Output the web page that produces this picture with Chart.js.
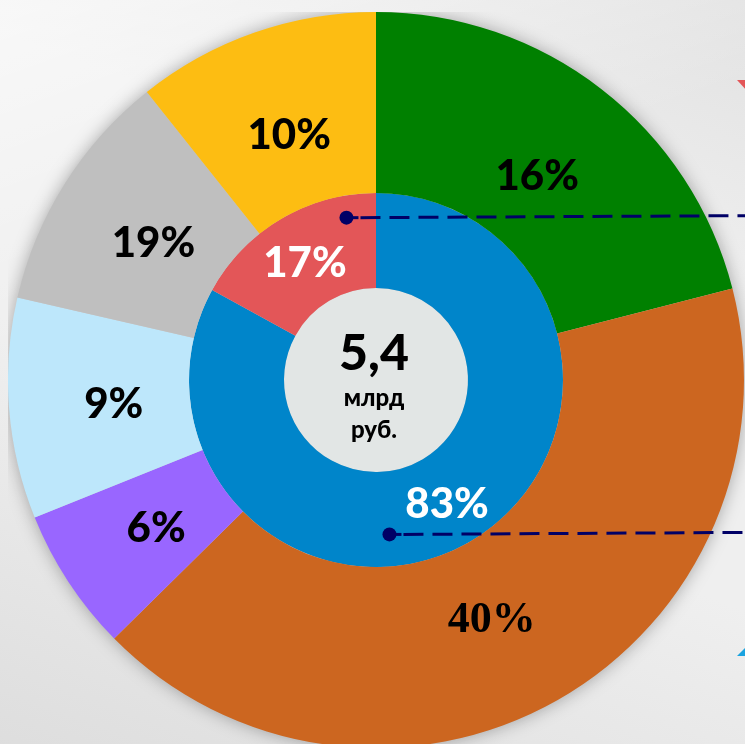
<!DOCTYPE html>
<html lang="ru">
<head>
    <meta charset="UTF-8">
    <title>5,4 млрд руб.</title>
    <script src="https://cdn.jsdelivr.net/npm/chart.js@4"></script>
    <style>
        html, body { margin: 0; padding: 0; width: 745px; height: 744px; overflow: hidden; }
        body {
            position: relative;
            background:
                linear-gradient(160deg, rgba(255,255,255,0.6) 0%, rgba(255,255,255,0) 35%),
                linear-gradient(20deg, rgba(210,210,210,0.6) 0%, rgba(255,255,255,0) 40%),
                linear-gradient(200deg, rgba(220,220,220,0.7) 0%, rgba(255,255,255,0) 30%),
                #efefef;
        }
        #wrap { position: absolute; left: 8px; top: 12px; width: 740px; height: 736px; }
    </style>
</head>
<body>
    <div id="wrap"><canvas id="chart"></canvas></div>

    <script>
        // внешнее кольцо (доли по рисунку, подписи как на слайде)
        const outerCategories = ["Зелёный", "Оранжевый", "Фиолетовый", "Голубой", "Серый", "Жёлтый"];
        const outerValues = [21, 41.6, 6.3, 9.7, 10.7, 10.7];
        const outerLabels = ["16%", "40%", "6%", "9%", "19%", "10%"];
        const outerColors = ["#008000", "#cc6620", "#9966ff", "#bde7fb", "#bfbfbf", "#fdbd12"];

        // внутреннее кольцо
        const innerCategories = ["Синий", "Красный"];
        const innerValues = [83, 17];
        const innerLabels = ["83%", "17%"];
        const innerColors = ["#0085ca", "#e35658"];

        const centerLines = ["5,4", "млрд", "руб."];

        const FONT = "Lato, 'Noto Sans', sans-serif";

        // подписи, тень, выноски
        const decorPlugin = {
            id: "decor",
            beforeDatasetsDraw(chart) {
                const arc = chart.getDatasetMeta(0).data[0];
                const ctx = chart.ctx;
                ctx.save();
                ctx.shadowColor = "rgba(0,0,0,0.35)";
                ctx.shadowBlur = 18;
                ctx.fillStyle = "#cccccc";
                ctx.beginPath();
                ctx.arc(arc.x, arc.y, arc.outerRadius - 1, 0, Math.PI * 2);
                ctx.fill();
                ctx.restore();
            },
            afterDatasetsDraw(chart) {
                const ctx = chart.ctx;
                ctx.save();
                ctx.textAlign = "center";
                ctx.textBaseline = "middle";

                const putLabels = (metaIndex, labels, color, font, frac) => {
                    chart.getDatasetMeta(metaIndex).data.forEach((a, i) => {
                        let mid = (a.startAngle + a.endAngle) / 2;
                        const r = a.innerRadius + (a.outerRadius - a.innerRadius) * frac;
                        ctx.fillStyle = color;
                        ctx.font = font;
                        if (labels[i] === "40%") {
                            ctx.font = "bold 44px 'Liberation Serif', serif";
                            mid += 0.06;
                        }
                        ctx.fillText(labels[i], a.x + Math.cos(mid) * r, a.y + Math.sin(mid) * r + 4);
                    });
                };
                putLabels(0, outerLabels, "#000000", "900 42px " + FONT, 0.42);
                putLabels(1, innerLabels, "#ffffff", "900 42px " + FONT, 0.5);

                // центр
                const c = chart.getDatasetMeta(2).data[0];
                ctx.fillStyle = "#000000";
                ctx.font = "900 50px " + FONT;
                ctx.fillText(centerLines[0], c.x - 2, c.y - 26);
                ctx.font = "900 24px " + FONT;
                ctx.fillText(centerLines[1], c.x - 2, c.y + 18);
                ctx.fillText(centerLines[2], c.x - 2, c.y + 50);

                // выноски
                const red = chart.getDatasetMeta(1).data[1];
                const blue = chart.getDatasetMeta(1).data[0];
                const right = chart.width;
                const leader = (a, ang, dr) => {
                    const px = a.x + Math.cos(ang) * (a.outerRadius - dr);
                    const py = a.y + Math.sin(ang) * (a.outerRadius - dr);
                    ctx.strokeStyle = "#000066";
                    ctx.fillStyle = "#000066";
                    ctx.lineWidth = 3;
                    ctx.setLineDash([]);
                    ctx.beginPath();
                    ctx.moveTo(px, py);
                    ctx.lineTo(px + 12, py);
                    ctx.stroke();
                    ctx.setLineDash([20, 9]);
                    ctx.beginPath();
                    ctx.moveTo(px + 14, py);
                    ctx.lineTo(right, py - 2);
                    ctx.stroke();
                    ctx.setLineDash([]);
                    ctx.beginPath();
                    ctx.arc(px, py, 7, 0, Math.PI * 2);
                    ctx.fill();
                };
                leader(red, red.endAngle - 0.18, 22);
                leader(blue, Math.PI / 2 - 0.087, 32);

                // уголки стрелок у правого края
                ctx.fillStyle = "#e35658";
                ctx.beginPath();
                ctx.moveTo(right - 11, 68); ctx.lineTo(right, 68); ctx.lineTo(right, 80);
                ctx.fill();
                ctx.fillStyle = "#1aa3e0";
                ctx.beginPath();
                ctx.moveTo(right - 11, 644); ctx.lineTo(right, 633); ctx.lineTo(right, 644);
                ctx.fill();
                ctx.restore();
            }
        };

        new Chart(document.getElementById("chart"), {
            type: "doughnut",
            data: {
                labels: outerCategories,
                datasets: [
                    { data: outerValues, backgroundColor: outerColors, borderWidth: 0, weight: 181 },
                    { data: innerValues, backgroundColor: innerColors, borderWidth: 0, weight: 95, labels: innerCategories },
                    { data: [1], backgroundColor: ["#e2e6e5"], borderWidth: 0, weight: 92 }
                ]
            },
            options: {
                responsive: true,
                maintainAspectRatio: false,
                animation: false,
                cutout: 0,
                layout: { padding: { right: 4 } },
                plugins: { legend: { display: false }, tooltip: { enabled: false } },
                events: []
            },
            plugins: [decorPlugin]
        });
    </script>
</body>
</html>
